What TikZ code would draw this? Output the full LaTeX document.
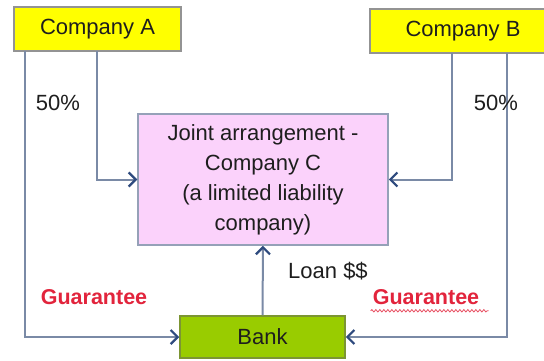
\documentclass[tikz,border=0pt]{standalone}
\usepackage{fontspec}
\setmainfont{Liberation Sans}
\usetikzlibrary{arrows.meta,decorations.pathmorphing}
\definecolor{lineg}{HTML}{7A8AA6}
\definecolor{tipb}{HTML}{2E4A7E}
\definecolor{txt}{HTML}{1E1E1E}
\definecolor{gred}{HTML}{E2243C}
\definecolor{yel}{HTML}{FFFF00}
\definecolor{pinkc}{HTML}{FBD2FB}
\definecolor{greenb}{HTML}{99CC00}
\tikzset{
  box/.style={draw, line width=1.5pt, rectangle, inner sep=0pt, text=txt, font=\fontsize{22}{30}\selectfont, align=center},
  conn/.style={draw=lineg, line width=2pt, -{Straight Barb[color=tipb,length=7pt,width=14pt,line width=2.2pt]}},
  lbl/.style={text=txt, font=\fontsize{22}{26}\selectfont, inner sep=0pt},
  glbl/.style={text=gred, font=\bfseries\fontsize{21.5}{26}\selectfont, inner sep=0pt}
}
\begin{document}
\begin{tikzpicture}[x=1pt,y=-1pt]
\useasboundingbox (0,0) rectangle (544,361);
\clip (0,0) rectangle (544,361);
\fill[white] (0,0) rectangle (544,361);
\node[box, draw=gray!85, fill=yel, minimum width=167pt, minimum height=44pt] (A) at (97.5,29) {Company A};
\node[box, draw=gray!85, fill=yel, minimum width=186pt, minimum height=44pt] (B) at (463,31) {Company B};
\node[box, draw=lineg!80, fill=pinkc, minimum width=250pt, minimum height=131pt] (C) at (263,179.5) {Joint arrangement -\\Company C\\(a limited liability\\company)};
\node[box, draw=greenb!60!black!80, fill=greenb, minimum width=165pt, minimum height=42pt] (K) at (262.5,337) {Bank};
\coordinate (a1) at (97,51);
\coordinate (a2) at (25,51);
\coordinate (b1) at (452,53);
\coordinate (b2) at (507,53);
\draw[conn] (a1) |- (C.west);
\draw[conn] (a2) |- (K.west);
\draw[conn] (b1) |- (C.east);
\draw[conn] (b2) |- (K.east);
\draw[conn] (K.north) -- (C.south);
\node[lbl] (p1) at (58,103) {50\%};
\node[lbl] (p2) at (496,103) {50\%};
\node[lbl] (loan) at (328,271) {Loan \$\$};
\node[glbl] (g1) at (94,297) {Guarantee};
\node[glbl] (g2) at (426,297) {Guarantee};
\draw[gred!80, line width=0.8pt, decorate, decoration={snake, amplitude=1.2pt, segment length=4pt}] (g2.south west) ++(-2,6) -- ++(118,0);
\end{tikzpicture}
\end{document}
